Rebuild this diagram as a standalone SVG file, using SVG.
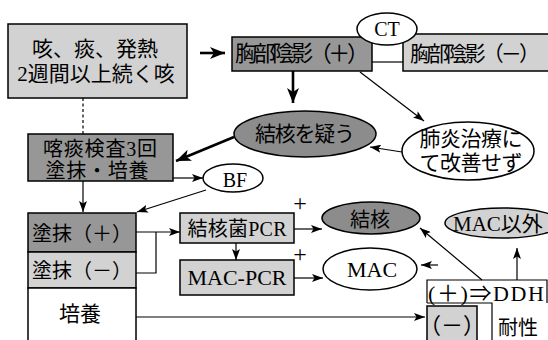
<svg xmlns="http://www.w3.org/2000/svg" width="548" height="340" viewBox="0 0 548 340">
<defs>
<marker id="ah" markerUnits="userSpaceOnUse" markerWidth="11" markerHeight="8" refX="11" refY="4" orient="auto"><path d="M0,0 L11,4 L0,8 L2.5,4 z" fill="#000"/></marker>
<marker id="ahb" markerUnits="userSpaceOnUse" markerWidth="15" markerHeight="12" refX="15" refY="6" orient="auto"><path d="M0,0 L15,6 L0,12 L4,6 z" fill="#000"/></marker>
</defs>
<style>
text{font-family:"Liberation Serif","Noto Sans CJK JP",serif;fill:#000}
.box{stroke:#000;stroke-width:1.5}
.lt{fill:#d2d2d2}
.dk{fill:#979797}
.dke{fill:#8c8c8c}
.wh{fill:#fff}
.c{text-anchor:middle}
.ln{fill:none;stroke:#000;stroke-width:1.2}
.thk{fill:none;stroke:#000;stroke-width:2.6}
</style>
<g id="connectors">
<line class="thk" x1="200" y1="53" x2="225" y2="53" marker-end="url(#ahb)"/>
<line class="thk" x1="293" y1="71" x2="293" y2="103" marker-end="url(#ahb)"/>
<line class="ln" x1="360" y1="72" x2="424" y2="121" marker-end="url(#ah)"/>
<line class="ln" x1="402" y1="152" x2="370" y2="147" marker-end="url(#ah)"/>
<line class="thk" x1="234" y1="137" x2="176" y2="161" marker-end="url(#ahb)"/>
<line class="ln" x1="83" y1="98" x2="83" y2="134" stroke-dasharray="3,2.5"/>
<line class="ln" x1="173" y1="178" x2="203" y2="178" marker-end="url(#ah)"/>
<line class="ln" x1="206" y1="190" x2="137" y2="212" marker-end="url(#ah)"/>
<line class="ln" x1="83" y1="181" x2="83" y2="212" marker-end="url(#ah)"/>
<path class="ln" d="M136,232 H180" marker-end="url(#ah)"/>
<path class="ln" d="M136,273 H156 V232"/>
<line class="ln" x1="236" y1="243" x2="236" y2="260" marker-end="url(#ah)"/>
<line class="ln" x1="294" y1="229" x2="322" y2="229" marker-end="url(#ah)"/>
<line class="ln" x1="294" y1="278" x2="323" y2="278" marker-end="url(#ah)"/>
<line class="ln" x1="136" y1="317" x2="425" y2="317" marker-end="url(#ah)"/>
<line class="ln" x1="482" y1="280" x2="420" y2="228" marker-end="url(#ah)"/>
<line class="ln" x1="517" y1="280" x2="517" y2="248" marker-end="url(#ah)"/>
<line class="ln" x1="438" y1="265" x2="421" y2="265" marker-end="url(#ah)"/>
<line class="ln" x1="372" y1="62" x2="403" y2="62"/>
</g>
<g id="n-symptoms">
<rect class="box lt" x="8" y="24" width="179" height="74"/>
<text class="c" x="95" y="56" font-size="21">咳、痰、発熱</text>
<text class="c" x="96" y="81" font-size="21">2週間以上続く咳</text>
</g>
<g id="n-shadow-pos">
<rect class="box dk" x="232" y="37" width="140" height="34"/>
<text class="c" x="302" y="61" font-size="22" textLength="134">胸部陰影（＋）</text>
</g>
<g id="n-shadow-neg">
<rect class="box lt" x="403" y="34" width="150" height="37"/>
<text x="410" y="61" font-size="21" textLength="130">胸部陰影（－）</text>
</g>
<g id="n-ct">
<ellipse class="box wh" cx="387" cy="29" rx="30" ry="16"/>
<text class="c" x="387" y="36" font-size="20">CT</text>
</g>
<g id="n-suspect">
<ellipse class="box dke" cx="305" cy="134" rx="71" ry="23"/>
<text class="c" x="305" y="141" font-size="21" textLength="100">結核を疑う</text>
</g>
<g id="n-pneumonia">
<ellipse class="box wh" cx="468" cy="151" rx="66" ry="29"/>
<text class="c" x="471" y="146" font-size="21" textLength="103">肺炎治療に</text>
<text class="c" x="471" y="170" font-size="21" textLength="103">て改善せず</text>
</g>
<g id="n-sputum">
<rect class="box dk" x="28" y="134" width="145" height="47"/>
<text class="c" x="100" y="156" font-size="20" textLength="114">喀痰検査3回</text>
<text class="c" x="97" y="178" font-size="20" textLength="103">塗抹・培養</text>
</g>
<g id="n-bf">
<ellipse class="box wh" cx="233" cy="178" rx="30" ry="14"/>
<text class="c" x="235" y="187" font-size="20">BF</text>
</g>
<g id="n-results">
<rect class="box dk" x="28" y="213" width="108" height="39"/>
<rect class="box lt" x="28" y="252" width="108" height="36"/>
<rect class="box wh" x="28" y="288" width="108" height="60"/>
<text class="c" x="82" y="241" font-size="20">塗抹（＋）</text>
<text class="c" x="82" y="278" font-size="20">塗抹（－）</text>
<text class="c" x="80" y="321" font-size="21">培養</text>
</g>
<g id="n-tbpcr">
<rect class="box lt" x="180" y="213" width="114" height="30"/>
<text class="c" x="237" y="236" font-size="20" textLength="99">結核菌PCR</text>
<text class="c" x="300" y="211" font-size="24">+</text>
</g>
<g id="n-macpcr">
<rect class="box lt" x="180" y="260" width="114" height="35"/>
<text class="c" x="237" y="285" font-size="22" textLength="99">MAC-PCR</text>
<text class="c" x="300" y="262" font-size="24">+</text>
</g>
<g id="n-tb">
<ellipse class="box dke" cx="371" cy="218" rx="49" ry="16"/>
<text class="c" x="370" y="227" font-size="20">結核</text>
</g>
<g id="n-mac">
<ellipse class="box wh" cx="370" cy="269" rx="47" ry="21"/>
<text class="c" x="372" y="277" font-size="22">MAC</text>
</g>
<g id="n-nonmac">
<ellipse class="box lt" cx="503" cy="223" rx="58" ry="15"/>
<text x="453" y="231" font-size="21">MAC以外</text>
</g>
<g id="n-ddh">
<rect class="lt" x="427" y="306" width="50" height="40" stroke="#000" stroke-width="1.5"/>
<path class="ln" d="M427,303 V280 H547 V303 M427,303 H492 V340" stroke-width="1.5"/>
<text x="428" y="301" font-size="22" textLength="116">(＋)⇒DDH</text>
<text class="c" x="452" y="333" font-size="22">（－）</text>
<text x="498" y="335" font-size="20">耐性</text>
</g>
</svg>
